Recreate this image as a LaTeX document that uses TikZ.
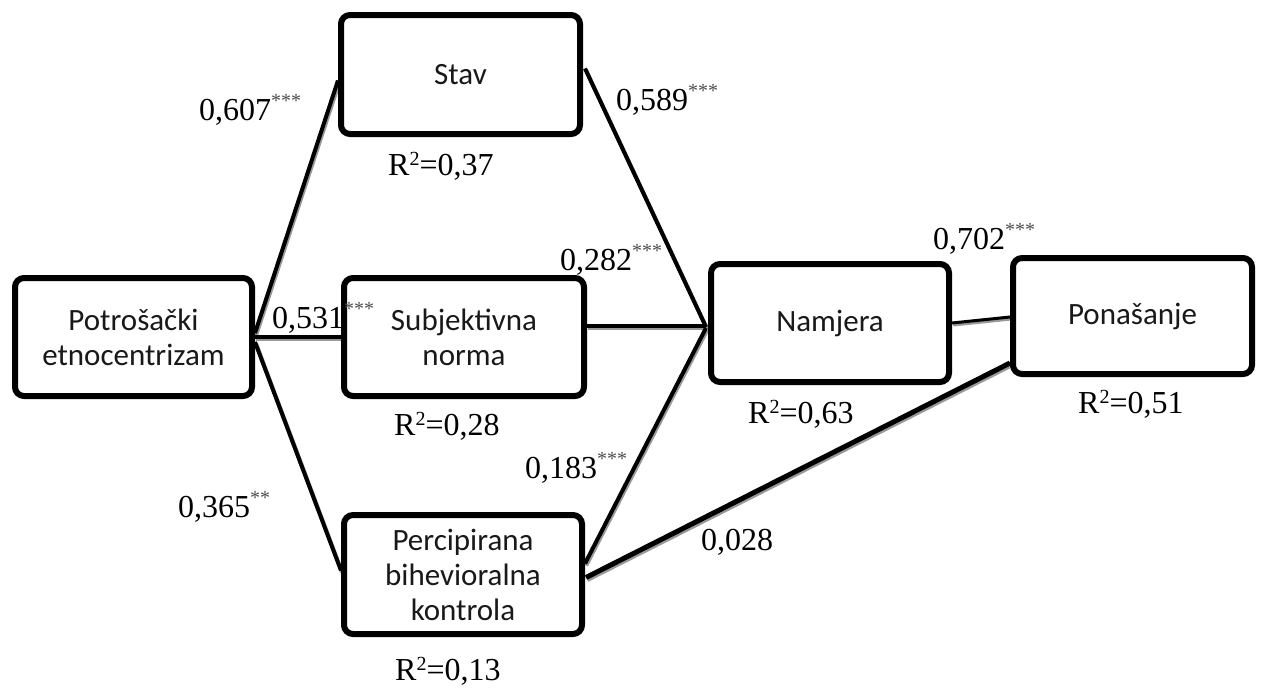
\documentclass[tikz,border=0pt]{standalone}
\usepackage{fontspec}
\setmainfont{Liberation Serif}
\newfontfamily\boxfont{Carlito}
\usetikzlibrary{calc,backgrounds,shadows}
\newcommand{\sig}[1]{\raisebox{13pt}{\fontsize{20}{20}\selectfont\color{black!70}#1}}
\newcommand{\rsq}{R\raisebox{10pt}{\fontsize{20}{20}\selectfont 2}}
\tikzset{
  box/.style={draw=black, line width=6pt, rounded corners=9pt, fill=white,
    align=center, inner sep=0pt, text=black!90,
    font=\boxfont\fontsize{31}{35}\selectfont,
    drop shadow={shadow xshift=1.5pt, shadow yshift=-2.5pt, fill=black!22}},
  lab/.style={anchor=base west, inner sep=0pt, font=\fontsize{32}{36}\selectfont},
  conn/.style={line width=4pt, black},
  connsh/.style={line width=4pt, black!40, transform canvas={shift={(1.2pt,-2pt)}}}
}
\begin{document}
\begin{tikzpicture}[x=1pt,y=-1pt]
\useasboundingbox (0,0) rectangle (1262,689);
\node[box, minimum width=237pt, minimum height=118pt] (P) at (133.5,337) {Potrošački\\etnocentrizam};
\node[box, minimum width=239pt, minimum height=119pt] (S) at (460.5,74.5) {Stav};
\node[box, minimum width=240pt, minimum height=118pt] (N) at (464,337) {Subjektivna\\norma};
\node[box, minimum width=238pt, minimum height=119pt] (C) at (463,574.5) {Percipirana\\bihevioralna\\kontrola};
\node[box, minimum width=238pt, minimum height=118pt] (M) at (830,323) {Namjera};
\node[box, minimum width=239pt, minimum height=116pt] (B) at (1132.5,316) {Ponašanje};

\coordinate (pS) at ($(P.east)+(0,-4)$);
\coordinate (pC) at ($(P.east)+(0,5)$);
\coordinate (sIn) at ($(S.west)+(0,6)$);
\coordinate (sOut) at ($(S.east)+(2,-6)$);
\coordinate (nOut) at ($(N.east)+(0,-11)$);
\coordinate (cIn) at ($(C.west)+(0,-4)$);
\coordinate (cM) at ($(C.east)+(0,-11)$);
\coordinate (cB) at ($(C.east)+(1,3)$);
\coordinate (mS) at ($(M.west)+(-2,4)$);
\coordinate (mN) at ($(M.west)+(-2,3)$);
\coordinate (mC) at ($(M.west)+(-2,5)$);
\coordinate (bM) at ($(B.west)+(0,1)$);
\coordinate (bC) at ($(B.west)+(0,47)$);

\begin{pgfonlayer}{background}
  \draw[connsh] (pS) -- (sIn);
  \draw[connsh] (P.east) -- (N.west);
  \draw[connsh] (pC) -- (cIn);
  \draw[connsh] (sOut) -- (mS);
  \draw[connsh] (nOut) -- (mN);
  \draw[connsh] (cM) -- (mC);
  \draw[connsh, line width=3pt] (M.east) -- (bM);
  \draw[connsh, line width=5pt] (cB) -- (bC);
  \draw[conn] (pS) -- (sIn);
  \draw[conn] (P.east) -- (N.west);
  \draw[conn] (pC) -- (cIn);
  \draw[conn] (sOut) -- (mS);
  \draw[conn] (nOut) -- (mN);
  \draw[conn] (cM) -- (mC);
  \draw[conn, line width=3pt] (M.east) -- (bM);
  \draw[conn, line width=5pt] (cB) -- (bC);
\end{pgfonlayer}

\node[lab] (l1) at (199,120) {0,607\sig{***}};
\node[lab] (l2) at (272,328) {0,531\sig{***}};
\node[lab] (l3) at (178,517) {0,365\sig{**}};
\node[lab] (l4) at (616,110) {0,589\sig{***}};
\node[lab] (l5) at (560,270) {0,282\sig{***}};
\node[lab] (l6) at (525,478) {0,183\sig{***}};
\node[lab] (l7) at (933,249) {0,702\sig{***}};
\node[lab] (l8) at (701,550) {0,028};
\node[lab] (r1) at (388,175) {\rsq=0,37};
\node[lab] (r2) at (394,435) {\rsq=0,28};
\node[lab] (r3) at (395,680) {\rsq=0,13};
\node[lab] (r4) at (748,423) {\rsq=0,63};
\node[lab] (r5) at (1078,413) {\rsq=0,51};
\end{tikzpicture}
\end{document}
